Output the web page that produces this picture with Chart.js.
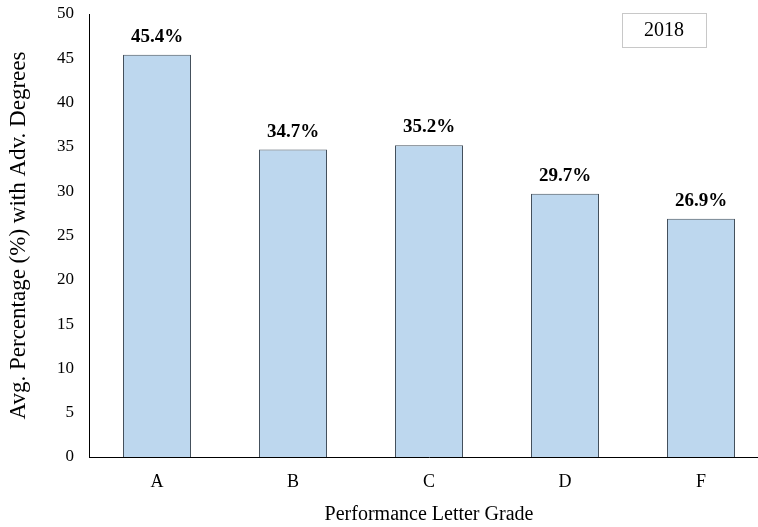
<!DOCTYPE html>
<html>
<head>
<meta charset="utf-8">
<script src="https://cdn.jsdelivr.net/npm/chart.js@4"></script>
<style>
  html, body { margin: 0; padding: 0; background: #fff; overflow: hidden; }
  #wrap { width: 772px; height: 527px; }
</style>
</head>
<body>
<div id="wrap"><canvas id="gradeChart" width="772" height="527"></canvas></div>
<script>
// data
var grades = ['A', 'B', 'C', 'D', 'F'];
var avgAdvDegrees = [45.4, 34.7, 35.2, 29.7, 26.9];
var yTicks = [0, 5, 10, 15, 20, 25, 30, 35, 40, 45, 50];
var seriesName = '2018';

var serif = "'Liberation Serif', 'Times New Roman', serif";

// value labels above the bars + the small boxed legend
var barLabels = {
    id: 'barLabels',
    afterDatasetsDraw: function (chart) {
        var ctx = chart.ctx;
        var meta = chart.getDatasetMeta(0);
        ctx.save();
        ctx.fillStyle = '#000';
        ctx.font = 'bold 19px ' + serif;
        ctx.textAlign = 'center';
        ctx.textBaseline = 'alphabetic';
        meta.data.forEach(function (bar, i) {
            ctx.fillText(avgAdvDegrees[i].toFixed(1) + '%', bar.x, bar.y - 13);
        });

        // legend box
        ctx.strokeStyle = '#c8c8c8';
        ctx.lineWidth = 1;
        ctx.strokeRect(622.5, 13.5, 84, 34);
        ctx.font = '20px ' + serif;
        ctx.textBaseline = 'middle';
        ctx.fillText(chart.data.datasets[0].label, 664, 31);
        ctx.restore();
    }
};

var ctx = document.getElementById('gradeChart').getContext('2d');
var chart = new Chart(ctx, {
    type: 'bar',
    data: {
        labels: grades,
        datasets: [{
            label: seriesName,
            data: avgAdvDegrees,
            backgroundColor: '#bdd7ee',
            borderColor: '#44505c',
            borderWidth: 1,
            categoryPercentage: 1,
            barPercentage: 0.5
        }]
    },
    options: {
        responsive: false,
        animation: false,
        layout: { padding: { top: 14, right: 3, left: 0, bottom: 0 } },
        plugins: {
            legend: { display: false },
            tooltip: { enabled: false }
        },
        scales: {
            x: {
                grid: { display: false, drawTicks: false },
                border: { color: '#000', width: 1 },
                ticks: { color: '#000', font: { family: serif, size: 18 }, padding: 14 },
                title: {
                    display: true,
                    text: 'Performance Letter Grade',
                    color: '#000',
                    font: { family: serif, size: 20 },
                    padding: { top: 14, bottom: 0 }
                },
                afterFit: function (s) {
                    s.height = 70;
                    s.paddingLeft = 0;
                    s.paddingRight = 0;
                }
            },
            y: {
                min: 0,
                max: 50,
                afterBuildTicks: function (s) {
                    s.ticks = yTicks.map(function (v) { return { value: v }; });
                },
                grid: { display: false, drawTicks: false },
                border: { color: '#000', width: 1 },
                ticks: { color: '#000', font: { family: serif, size: 17 }, padding: 15 },
                title: {
                    display: true,
                    text: 'Avg. Percentage (%) with Adv. Degrees',
                    color: '#000',
                    font: { family: serif, size: 23 },
                    padding: { bottom: 0, top: 5 }
                },
                afterFit: function (s) {
                    s.width = 89;
                    s.paddingTop = 0;
                    s.paddingBottom = 0;
                }
            }
        }
    },
    plugins: [barLabels]
});
</script>
</body>
</html>
